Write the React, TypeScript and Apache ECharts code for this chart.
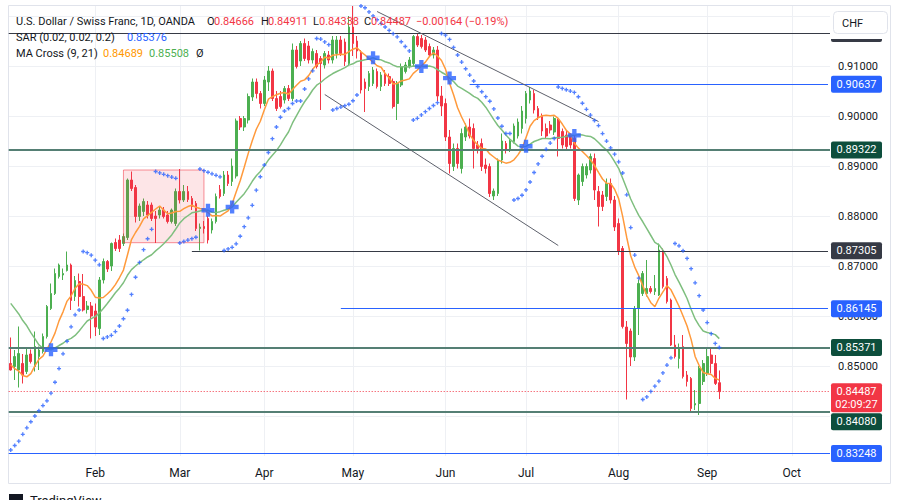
import { useEffect, useRef } from "react";
import * as echarts from "echarts";

// ---------------- data ----------------
const FIRST_TRADING_DAY = "2024-01-03";
const SLOT_COUNT = 204; // weekday slots on the time axis, incl. empty space on the right
const MONTHS = ["Jan", "Feb", "Mar", "Apr", "May", "Jun", "Jul", "Aug", "Sep", "Oct", "Nov", "Dec"];

// daily candles: [open, high, low, close]
const jan = [
  [0.8505, 0.8557, 0.8491, 0.8492], [0.8499, 0.8532, 0.8472, 0.8519], [0.8492, 0.8579, 0.8457, 0.8525],
  [0.8505, 0.8524, 0.8465, 0.8482], [0.8489, 0.8535, 0.8484, 0.8522], [0.8524, 0.8533, 0.8505, 0.8509],
  [0.8499, 0.8569, 0.8489, 0.8539], [0.8519, 0.8539, 0.8492, 0.8532], [0.8529, 0.8565, 0.8525, 0.8559],
  [0.8559, 0.8622, 0.8555, 0.8619], [0.8615, 0.8665, 0.8612, 0.8645], [0.8645, 0.8695, 0.8642, 0.8685],
  [0.8679, 0.8705, 0.8675, 0.8702], [0.8682, 0.8695, 0.8672, 0.8685], [0.8691, 0.8729, 0.8689, 0.8702],
  [0.8702, 0.8705, 0.8612, 0.8631], [0.8639, 0.8680, 0.8630, 0.8671], [0.8669, 0.8685, 0.8619, 0.8639],
  [0.8639, 0.8684, 0.8609, 0.8612], [0.8613, 0.8630, 0.8605, 0.8620], [0.8620, 0.8628, 0.8555, 0.8600],
];
const feb = [
  [0.8610, 0.8625, 0.8560, 0.8578], [0.8575, 0.8678, 0.8562, 0.8672], [0.8672, 0.8715, 0.8665, 0.8709],
  [0.8709, 0.8712, 0.8688, 0.8694], [0.8700, 0.8747, 0.8690, 0.8745], [0.8747, 0.8755, 0.8730, 0.8735],
  [0.8752, 0.8762, 0.8728, 0.8735], [0.8745, 0.8765, 0.8740, 0.8759], [0.8757, 0.8875, 0.8752, 0.8872],
  [0.8872, 0.8889, 0.8850, 0.8855], [0.8857, 0.8862, 0.8787, 0.8799], [0.8799, 0.8825, 0.8790, 0.8820],
  [0.8809, 0.8835, 0.8800, 0.8829], [0.8822, 0.8830, 0.8795, 0.8802], [0.8822, 0.8827, 0.8790, 0.8795],
  [0.8800, 0.8810, 0.8746, 0.8795], [0.8802, 0.8820, 0.8795, 0.8812], [0.8812, 0.8818, 0.8795, 0.8799],
  [0.8802, 0.8810, 0.8785, 0.8789], [0.8789, 0.8815, 0.8785, 0.8812], [0.8785, 0.8855, 0.8780, 0.8849],
];
const mar = [
  [0.8849, 0.8894, 0.8825, 0.8832], [0.8832, 0.8862, 0.8828, 0.8849], [0.8849, 0.8860, 0.8828, 0.8833],
  [0.8835, 0.8840, 0.8812, 0.8819], [0.8825, 0.8830, 0.8770, 0.8775], [0.8775, 0.8785, 0.8731, 0.8778],
  [0.8779, 0.8790, 0.8765, 0.8775], [0.8795, 0.8800, 0.8745, 0.8752], [0.8772, 0.8795, 0.8765, 0.8789],
  [0.8789, 0.8845, 0.8785, 0.8839], [0.8853, 0.8862, 0.8835, 0.8839], [0.8845, 0.8890, 0.8840, 0.8882],
  [0.8882, 0.8890, 0.8860, 0.8865], [0.8869, 0.8915, 0.8860, 0.8900], [0.8880, 0.8995, 0.8875, 0.8990],
  [0.8995, 0.9000, 0.8972, 0.8978], [0.8978, 0.9000, 0.8970, 0.8995], [0.8992, 0.9045, 0.8985, 0.9039],
  [0.9038, 0.9075, 0.9030, 0.9068], [0.9068, 0.9075, 0.9035, 0.9045], [0.9045, 0.9050, 0.9015, 0.9025],
];
const apr = [
  [0.9025, 0.9080, 0.9020, 0.9072], [0.9068, 0.9100, 0.9050, 0.9090], [0.9090, 0.9095, 0.9030, 0.9035],
  [0.9035, 0.9050, 0.9010, 0.9015], [0.9039, 0.9050, 0.9015, 0.9019], [0.9032, 0.9060, 0.9025, 0.9055],
  [0.9055, 0.9062, 0.9030, 0.9035], [0.9035, 0.9145, 0.9030, 0.9132], [0.9132, 0.9140, 0.9095, 0.9099],
  [0.9110, 0.9150, 0.9100, 0.9145], [0.9145, 0.9155, 0.9110, 0.9115], [0.9140, 0.9150, 0.9105, 0.9112],
  [0.9112, 0.9135, 0.9105, 0.9129], [0.9125, 0.9132, 0.9095, 0.9099], [0.9115, 0.9120, 0.9012, 0.9105],
  [0.9102, 0.9130, 0.9095, 0.9125], [0.9122, 0.9130, 0.9105, 0.9112], [0.9112, 0.9160, 0.9105, 0.9152],
  [0.9125, 0.9160, 0.9115, 0.9152], [0.9152, 0.9160, 0.9120, 0.9125], [0.9148, 0.9155, 0.9100, 0.9109],
  [0.9105, 0.9200, 0.9100, 0.9178],
];
const may = [
  [0.9178, 0.9220, 0.9120, 0.9145], [0.9150, 0.9160, 0.9115, 0.9130], [0.9128, 0.9132, 0.9045, 0.9052],
  [0.9068, 0.9075, 0.9008, 0.9055], [0.9059, 0.9090, 0.9050, 0.9085], [0.9065, 0.9098, 0.9060, 0.9092],
  [0.9089, 0.9095, 0.9055, 0.9059], [0.9059, 0.9088, 0.9050, 0.9082], [0.9085, 0.9092, 0.9060, 0.9065],
  [0.9079, 0.9085, 0.9060, 0.9065], [0.9069, 0.9075, 0.9015, 0.9019], [0.9025, 0.9070, 0.8992, 0.9065],
  [0.9062, 0.9105, 0.9058, 0.9099], [0.9089, 0.9108, 0.9085, 0.9102], [0.9099, 0.9118, 0.9095, 0.9112],
  [0.9105, 0.9162, 0.9100, 0.9159], [0.9159, 0.9165, 0.9138, 0.9142], [0.9155, 0.9162, 0.9135, 0.9139],
  [0.9152, 0.9158, 0.9128, 0.9132], [0.9139, 0.9145, 0.9118, 0.9122], [0.9122, 0.9138, 0.9115, 0.9132],
  [0.9132, 0.9140, 0.9030, 0.9040], [0.9040, 0.9060, 0.9000, 0.9020],
];
const jun = [
  [0.9025, 0.9035, 0.8950, 0.8958], [0.8958, 0.8972, 0.8885, 0.8905], [0.8899, 0.8945, 0.8890, 0.8935],
  [0.8935, 0.8945, 0.8895, 0.8905], [0.8895, 0.8975, 0.8885, 0.8965], [0.8958, 0.8985, 0.8950, 0.8978],
  [0.8978, 0.8995, 0.8955, 0.8960], [0.8975, 0.8985, 0.8895, 0.8935], [0.8942, 0.8950, 0.8925, 0.8935],
  [0.8945, 0.8955, 0.8890, 0.8899], [0.8902, 0.8915, 0.8885, 0.8895], [0.8899, 0.8905, 0.8838, 0.8845],
  [0.8840, 0.8855, 0.8832, 0.8850], [0.8845, 0.8915, 0.8840, 0.8910], [0.8912, 0.8965, 0.8905, 0.8950],
  [0.8945, 0.8950, 0.8925, 0.8932], [0.8932, 0.8955, 0.8928, 0.8950], [0.8949, 0.8985, 0.8945, 0.8980],
  [0.8960, 0.8995, 0.8955, 0.8988], [0.8975, 0.9020, 0.8965, 0.9010],
];
const jul = [
  [0.8995, 0.9050, 0.8985, 0.9045], [0.9032, 0.9058, 0.9025, 0.9050], [0.9045, 0.9052, 0.9005, 0.9012],
  [0.9015, 0.9020, 0.8992, 0.8999], [0.8999, 0.9005, 0.8960, 0.8970], [0.8975, 0.8985, 0.8955, 0.8960],
  [0.8982, 0.8990, 0.8965, 0.8972], [0.8968, 0.8999, 0.8962, 0.8995], [0.8992, 0.8995, 0.8919, 0.8955],
  [0.8969, 0.8975, 0.8935, 0.8942], [0.8962, 0.8970, 0.8932, 0.8939], [0.8959, 0.8965, 0.8935, 0.8942],
  [0.8955, 0.8960, 0.8830, 0.8835], [0.8832, 0.8885, 0.8822, 0.8882], [0.8869, 0.8905, 0.8860, 0.8899],
  [0.8882, 0.8905, 0.8875, 0.8899], [0.8892, 0.8925, 0.8885, 0.8919], [0.8915, 0.8925, 0.8832, 0.8852],
  [0.8849, 0.8860, 0.8779, 0.8819], [0.8842, 0.8850, 0.8810, 0.8819], [0.8839, 0.8875, 0.8830, 0.8865],
  [0.8865, 0.8875, 0.8825, 0.8832], [0.8832, 0.8840, 0.8770, 0.8778],
];
const aug = [
  [0.8785, 0.8795, 0.8722, 0.8729], [0.8735, 0.8740, 0.8575, 0.8579], [0.8578, 0.8590, 0.8433, 0.8545],
  [0.8570, 0.8575, 0.8500, 0.8518], [0.8518, 0.8620, 0.8510, 0.8615], [0.8615, 0.8672, 0.8562, 0.8665],
  [0.8645, 0.8690, 0.8640, 0.8685], [0.8645, 0.8712, 0.8639, 0.8655], [0.8655, 0.8660, 0.8645, 0.8649],
  [0.8649, 0.8682, 0.8642, 0.8655], [0.8642, 0.8745, 0.8640, 0.8732], [0.8729, 0.8735, 0.8655, 0.8659],
  [0.8675, 0.8680, 0.8625, 0.8629], [0.8632, 0.8635, 0.8540, 0.8542], [0.8542, 0.8562, 0.8515, 0.8519],
  [0.8515, 0.8545, 0.8495, 0.8535], [0.8539, 0.8562, 0.8475, 0.8479], [0.8482, 0.8490, 0.8459, 0.8469],
  [0.8475, 0.8478, 0.8410, 0.8415], [0.8422, 0.8452, 0.8412, 0.8425], [0.8425, 0.8500, 0.8402, 0.8495],
  [0.8469, 0.8512, 0.8462, 0.8505],
];
const sep = [
  [0.8485, 0.8537, 0.8480, 0.8519], [0.8522, 0.8537, 0.8485, 0.8505], [0.8505, 0.8522, 0.8462, 0.84651],
  [0.84666, 0.84911, 0.84338, 0.84487],
];
const candles = [...jan, ...feb, ...mar, ...apr, ...may, ...jun, ...jul, ...aug, ...sep];

// closes of the 20 sessions before the first visible bar (estimated from where the MA lines start)
const warmupCloses = [
  0.8740, 0.8750, 0.8760, 0.8740, 0.8800, 0.8790, 0.8790, 0.8700, 0.8640, 0.8690,
  0.8610, 0.8600, 0.8590, 0.8570, 0.8560, 0.8545, 0.8450, 0.8400, 0.8415, 0.8500,
];
// parabolic SAR state at the first visible bar (lowest dot, bottom-left)
const sarStart = { sar: 0.8332, ep: 0.8557, af: 0.04, up: true };
const SAR_PARAMS = { start: 0.02, step: 0.02, max: 0.2 };

// price scale
const Y_MIN = 0.832;
const Y_MAX = 0.922;
const gridValues = [0.84, 0.85, 0.86, 0.87, 0.88, 0.89, 0.9, 0.91, 0.92];
const coveredTicks = [0.84, 0.92]; // tick labels hidden under the badge / currency box

// horizontal drawings (from = slot index where the line begins, null = full width)
const levels = [
  { value: 0.9165, from: null, color: "#363a45", width: 1, dash: "solid", badge: "#363a45", hiddenText: true },
  { value: 0.90637, from: 114, color: "#2962ff", width: 1, dash: "solid", badge: "#2962ff" },
  { value: 0.89322, from: null, color: "#557f74", width: 2, dash: "solid", badge: "#0d4e3c" },
  { value: 0.87305, from: 45, color: "#363a45", width: 1, dash: "solid", badge: "#363a45" },
  { value: 0.86145, from: 82, color: "#2962ff", width: 1, dash: "solid", badge: "#2962ff" },
  { value: 0.85371, from: null, color: "#557f74", width: 2, dash: "solid", badge: "#0d4e3c" },
  { value: 0.84487, from: null, color: "#f23645", width: 1, dash: "dotted", badge: "#f23645", sub: "02:09:27" },
  { value: 0.8408, from: null, color: "#557f74", width: 2, dash: "solid", badge: "#0d4e3c" },
  { value: 0.83248, from: null, color: "#2962ff", width: 1, dash: "solid", badge: "#2962ff" },
];
// channel lines: [slot, price] -> [slot, price]
const trendLines = [
  { from: 91, fromValue: 0.9209, to: 146, toValue: 0.8989 },
  { from: 78, fromValue: 0.9043, to: 136, toValue: 0.8741 },
];
// shaded consolidation box
const zone = { from: 28, to: 48, top: 0.8892, bottom: 0.87466 };

// legend texts
const TITLE = "U.S. Dollar / Swiss Franc, 1D, OANDA";
const SAR_TITLE = "SAR (0.02, 0.02, 0.2)";
const SAR_VALUE = "0.85376";
const MA_TITLE = "MA Cross (9, 21)";
const MA_FAST_VALUE = "0.84689";
const MA_SLOW_VALUE = "0.85508";

// ---------------- derived ----------------
const categories: string[] = [];
{
  const d = new Date(FIRST_TRADING_DAY + "T00:00:00Z");
  while (categories.length < SLOT_COUNT) {
    const wd = d.getUTCDay();
    if (wd !== 0 && wd !== 6) categories.push(d.toISOString().slice(0, 10));
    d.setUTCDate(d.getUTCDate() + 1);
  }
}
const isMonthStart = (i: number) =>
  i > 0 && categories[i].slice(5, 7) !== categories[i - 1].slice(5, 7);

const closes = candles.map((c) => c[3]);
function sma(period: number) {
  const all = [...warmupCloses, ...closes];
  return closes.map((_, i) => {
    const end = warmupCloses.length + i;
    const start = end - period + 1;
    if (start < 0) return null;
    let s = 0;
    for (let k = start; k <= end; k++) s += all[k];
    return s / period;
  });
}
const maFast = sma(9);
const maSlow = sma(21);

function parabolicSar() {
  const out: number[] = [];
  let { sar, ep, af, up } = sarStart;
  out.push(sar);
  for (let i = 1; i < candles.length; i++) {
    const h = candles[i][1];
    const l = candles[i][2];
    const p1 = candles[i - 1];
    const p2 = i > 1 ? candles[i - 2] : p1;
    let next = sar + af * (ep - sar);
    if (up) {
      next = Math.min(next, p1[2], p2[2]);
      if (l < next) {
        up = false; next = ep; ep = l; af = SAR_PARAMS.start;
      } else if (h > ep) {
        ep = h; af = Math.min(af + SAR_PARAMS.step, SAR_PARAMS.max);
      }
    } else {
      next = Math.max(next, p1[1], p2[1]);
      if (h > next) {
        up = true; next = ep; ep = h; af = SAR_PARAMS.start;
      } else if (l < ep) {
        ep = l; af = Math.min(af + SAR_PARAMS.step, SAR_PARAMS.max);
      }
    }
    sar = next;
    out.push(sar);
  }
  return out;
}
const sarValues = parabolicSar();

const crossMarks = closes.map((_, i) => {
  if (i === 0) return "-";
  const a0 = maFast[i - 1], b0 = maSlow[i - 1], a1 = maFast[i], b1 = maSlow[i];
  if (a0 == null || b0 == null || a1 == null || b1 == null) return "-";
  return a0 - b0 > 0 !== a1 - b1 > 0 ? b1 : "-";
});

const last = candles[candles.length - 1];
const prevClose = candles[candles.length - 2][3];
const change = last[3] - prevClose;
const changePct = (change / prevClose) * 100;
const fmt5 = (v: number) => v.toFixed(5);
const signed = (s: string) => s.replace("-", "\u2212");

const FONT = "Roboto, 'Noto Sans', Arial, sans-serif";
const PLUS = "path://M2,0H4V2H6V4H4V6H2V4H0V2H2Z";

export default function App() {
  const ref = useRef<HTMLDivElement>(null);
  useEffect(() => {
    if (!ref.current) return;
    const chart = echarts.init(ref.current, null, { renderer: "svg" });
    const option: any = {
      animation: false,
      backgroundColor: "#ffffff",
      grid: { left: 8.7, right: 70, top: 6, bottom: 44 },
      xAxis: {
        type: "category",
        data: categories,
        boundaryGap: true,
        axisLine: { show: false },
        axisTick: { show: false },
        axisLabel: {
          interval: (i: number) => isMonthStart(i),
          formatter: (v: string) => MONTHS[Number(v.slice(5, 7)) - 1],
          color: "#131722",
          fontSize: 12,
          fontFamily: FONT,
          margin: 11,
        },
        splitLine: {
          show: true,
          alignWithLabel: true,
          interval: (i: number) => isMonthStart(i),
          lineStyle: { color: "#eef0f4", width: 1 },
        },
      },
      yAxis: {
        type: "value",
        position: "right",
        min: Y_MIN,
        max: Y_MAX,
        interval: 0.002,
        scale: true,
        axisLine: { show: false },
        axisTick: { show: false },
        splitLine: { show: false },
        axisLabel: {
          margin: 8,
          color: "#131722",
          fontSize: 11,
          fontFamily: FONT,
          formatter: (v: number) => {
            const onCent = Math.abs(v * 100 - Math.round(v * 100)) < 1e-6;
            const covered = coveredTicks.some((t) => Math.abs(t - v) < 1e-6);
            return onCent && !covered ? v.toFixed(5) : "";
          },
        },
      },
      series: [
        {
          type: "line",
          data: [],
          silent: true,
          markLine: {
            silent: true,
            symbol: "none",
            precision: 5,
            z: 0,
            label: { show: false },
            lineStyle: { color: "#eef0f4", width: 1, type: "solid" },
            data: gridValues.map((v) => ({ yAxis: v })),
          },
        },
        {
          type: "candlestick",
          data: candles.map(([o, h, l, c]) => [o, c, l, h]),
          barWidth: 2.2,
          z: 2,
          itemStyle: {
            color: "#4caf50",
            color0: "#f23645",
            borderColor: "#4caf50",
            borderColor0: "#f23645",
            borderWidth: 1,
          },
          markArea: {
            silent: true,
            z: 3,
            itemStyle: {
              color: "rgba(242,54,69,0.13)",
              borderColor: "rgba(242,54,69,0.55)",
              borderWidth: 1,
            },
            data: [[
              { coord: [categories[zone.from], zone.top] },
              { coord: [categories[zone.to], zone.bottom] },
            ]],
          },
        },
        {
          type: "line",
          data: maSlow,
          showSymbol: false,
          z: 4,
          lineStyle: { color: "#7fbf7f", width: 1.5 },
        },
        {
          type: "line",
          data: maFast,
          showSymbol: false,
          z: 4,
          lineStyle: { color: "#ff9a3c", width: 1.5 },
        },
        {
          type: "scatter",
          data: sarValues,
          symbol: PLUS,
          symbolSize: 4,
          z: 5,
          itemStyle: { color: "#2962ff" },
        },
        {
          type: "scatter",
          data: crossMarks,
          symbol: PLUS,
          symbolSize: 13,
          z: 6,
          itemStyle: { color: "#2962ff" },
        },
        {
          type: "line",
          data: [],
          silent: true,
          markLine: {
            silent: true,
            symbol: "none",
            precision: 5,
            z: 5,
            label: { show: false },
            data: [
              ...levels.map((lv) => {
                const lineStyle = {
                  color: lv.color,
                  width: lv.width,
                  type: lv.dash === "dotted" ? [1, 2] : "solid",
                };
                if (lv.from == null) return { yAxis: lv.value, lineStyle };
                return [
                  { coord: [categories[lv.from], lv.value], lineStyle },
                  { coord: [categories[SLOT_COUNT - 1], lv.value] },
                ];
              }),
              ...trendLines.map((t) => [
                { coord: [categories[t.from], t.fromValue], lineStyle: { color: "#5d606b", width: 1, type: "solid" } },
                { coord: [categories[t.to], t.toValue] },
              ]),
            ],
          },
        },
      ],
    };
    chart.setOption(option);

    // price badges on the scale, positioned through the y axis
    const badgeEls: any[] = [];
    const placed = levels
      .map((lv) => ({ lv, y: chart.convertToPixel({ yAxisIndex: 0 }, lv.value) as number }))
      .sort((a, b) => a.y - b.y);
    let prevBottom = -Infinity;
    for (const { lv, y } of placed) {
      const h = lv.sub ? 29 : 17;
      let top = y - 8.5;
      if (top < prevBottom + 1) top = prevBottom + 1;
      prevBottom = top + h;
      badgeEls.push({
        type: "rect",
        z: 10,
        shape: { x: 831, y: top, width: 51, height: h, r: 2 },
        style: { fill: lv.badge },
      });
      if (!lv.hiddenText) {
        badgeEls.push({
          type: "text",
          z: 11,
          x: 856.5,
          y: top + 8.5,
          style: { text: fmt5(lv.value), fill: "#ffffff", font: `11px ${FONT}`, align: "center", verticalAlign: "middle" },
        });
      }
      if (lv.sub) {
        badgeEls.push({
          type: "text",
          z: 11,
          x: 856.5,
          y: top + 21,
          style: { text: lv.sub, fill: "#ffffff", font: `11px ${FONT}`, align: "center", verticalAlign: "middle" },
        });
      }
    }

    const txt = (x: number, y: number, text: string, fill: string, size = 11) => ({
      type: "text",
      z: 20,
      x,
      y,
      silent: true,
      style: { text, fill, font: `${size}px ${FONT}`, align: "left", verticalAlign: "middle" },
    });
    const red = "#f23645";
    const dark = "#131722";
    const header = [
      txt(16, 21, TITLE, dark),
      txt(207, 21, "O", dark), txt(214, 21, fmt5(last[0]), red),
      txt(261, 21, "H", dark), txt(268, 21, fmt5(last[1]), red),
      txt(313, 21, "L", dark), txt(319, 21, fmt5(last[2]), red),
      txt(364, 21, "C", dark), txt(371, 21, fmt5(last[3]), red),
      txt(416, 21, `${signed(change.toFixed(5))} (${signed(changePct.toFixed(2))}%)`, red),
      txt(16, 37, SAR_TITLE, dark), txt(127, 37, SAR_VALUE, "#2962ff"),
      txt(16, 53, MA_TITLE, dark), txt(103, 53, MA_FAST_VALUE, "#ff9800"),
      txt(149, 53, MA_SLOW_VALUE, "#4caf50"), txt(196, 53, "\u00d8", dark),
    ];

    chart.setOption({
      graphic: [
        {
          type: "rect",
          z: 0,
          silent: true,
          shape: { x: 8.5, y: 5.5, width: 882, height: 478 },
          style: { fill: "none", stroke: "#e0e3eb", lineWidth: 1 },
        },
        ...badgeEls,
        { type: "rect", z: 19, shape: { x: 831, y: 7, width: 59, height: 32 }, style: { fill: "#ffffff" } },
        {
          type: "rect",
          z: 20,
          shape: { x: 833.5, y: 11.5, width: 54, height: 22, r: 4 },
          style: { fill: "#ffffff", stroke: "#e0e3eb", lineWidth: 1 },
        },
        txt(842, 23, "CHF", dark, 11),
        ...header,
        { type: "rect", z: 20, shape: { x: 9, y: 494, width: 14, height: 8 }, style: { fill: "#131722" } },
        txt(30, 500, "TradingView", dark, 13),
      ],
    });
    return () => chart.dispose();
  }, []);
  return (
    <div
      ref={ref}
      style={{ position: "fixed", left: 0, top: 0, width: 900, height: 500, background: "#fff" }}
    />
  );
}
